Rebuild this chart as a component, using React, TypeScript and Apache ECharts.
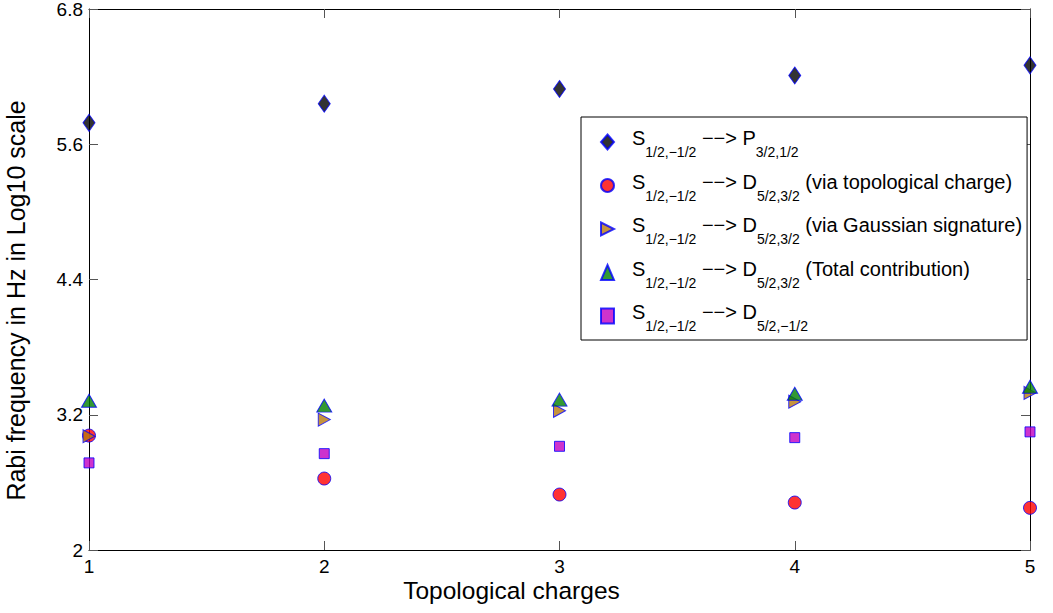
import React, { useEffect, useRef } from "react";
import * as echarts from "echarts";

const xValues = [1, 2, 3, 4, 5];
const xTicks = [1, 2, 3, 4, 5];
const yTicks = [2, 3.2, 4.4, 5.6, 6.8];

const seriesP = [5.79, 5.96, 6.09, 6.21, 6.3];
const seriesTopo = [3.015, 2.634, 2.492, 2.421, 2.374];
const seriesGauss = [3.01, 3.157, 3.235, 3.316, 3.394];
const seriesTotal = [3.324, 3.281, 3.334, 3.387, 3.449];
const seriesDm = [2.773, 2.855, 2.92, 2.997, 3.048];

const seriesNames = [
  "S1/2,−1/2 −−> P3/2,1/2",
  "S1/2,−1/2 −−> D5/2,3/2 (via topological charge)",
  "S1/2,−1/2 −−> D5/2,3/2 (via Gaussian signature)",
  "S1/2,−1/2 −−> D5/2,3/2 (Total contribution)",
  "S1/2,−1/2 −−> D5/2,−1/2",
];
const legendRich = [
  "{f|S}{s|1/2,−1/2}{a| −−> P}{s|3/2,1/2}",
  "{f|S}{s|1/2,−1/2}{a| −−> D}{s|5/2,3/2}{a| (via topological charge)}",
  "{f|S}{s|1/2,−1/2}{a| −−> D}{s|5/2,3/2}{a| (via Gaussian signature)}",
  "{f|S}{s|1/2,−1/2}{a| −−> D}{s|5/2,3/2}{a| (Total contribution)}",
  "{f|S}{s|1/2,−1/2}{a| −−> D}{s|5/2,−1/2}",
];

const FONT = "'Liberation Sans', Arial, Helvetica, sans-serif";
const BORDER = "#0000ff";

function pts(vals: number[]) {
  return xValues.map((x, i) => [x, vals[i]]);
}

export default function App() {
  const ref = useRef<HTMLDivElement>(null);
  useEffect(() => {
    document.body.style.margin = "0";
    const chart = echarts.init(ref.current!, undefined, { renderer: "svg" });
    const tickStyle = { show: true, inside: true, length: 9, lineStyle: { color: "#555", width: 1 } };
    const lineStyle = { show: true, onZero: false, lineStyle: { color: "#000", width: 1 } };
    chart.setOption({
      animation: false,
      backgroundColor: "#fff",
      textStyle: { fontFamily: FONT },
      grid: { left: 89, right: 23, top: 9, bottom: 63, containLabel: false, outerBoundsMode: "none" },
      legend: {
        orient: "vertical",
        left: 581,
        top: 117,
        padding: [11, 5, 7, 19],
        itemWidth: 13,
        itemHeight: 15,
        itemGap: 12.5,
        borderColor: "#000",
        borderWidth: 1,
        backgroundColor: "#fff",
        data: seriesNames,
        formatter: (name: string) => legendRich[seriesNames.indexOf(name)],
        textStyle: {
          color: "#000",
          fontFamily: FONT,
          rich: {
            f: { fontSize: 20, fontFamily: FONT, color: "#000", lineHeight: 28, verticalAlign: "top", padding: [0, 0, 0, 13] },
            a: { fontSize: 20, fontFamily: FONT, color: "#000", lineHeight: 28, verticalAlign: "top" },
            s: { fontSize: 14, fontFamily: FONT, color: "#000", lineHeight: 1, height: 8, verticalAlign: "bottom" },
          },
        },
      },
      xAxis: [
        {
          type: "value",
          min: 1,
          max: 5,
          interval: 1,
          position: "bottom",
          axisLine: lineStyle,
          axisTick: tickStyle,
          splitLine: { show: false },
          axisLabel: { fontSize: 19, color: "#000", margin: 7, customValues: xTicks },
          name: "Topological charges",
          nameLocation: "middle",
          nameGap: 28,
          nameMoveOverlap: false,
          nameTextStyle: { fontSize: 24.5, color: "#000", fontFamily: FONT, padding: [0, 96, 0, 0] },
        },
        {
          type: "value",
          min: 1,
          max: 5,
          interval: 1,
          position: "top",
          axisLine: lineStyle,
          axisTick: tickStyle,
          splitLine: { show: false },
          axisLabel: { show: false },
        },
      ],
      yAxis: [
        {
          type: "value",
          min: 2,
          max: 6.8,
          position: "left",
          axisLine: lineStyle,
          axisTick: { ...tickStyle, customValues: yTicks },
          splitLine: { show: false },
          axisLabel: { fontSize: 19, color: "#000", margin: 6, customValues: yTicks },
          name: "Rabi frequency in Hz in Log10 scale",
          nameLocation: "middle",
          nameGap: 61,
          nameTextStyle: { fontSize: 25, color: "#000", fontFamily: FONT, padding: [0, 42, 0, 0] },
        },
        {
          type: "value",
          min: 2,
          max: 6.8,
          position: "right",
          axisLine: lineStyle,
          axisTick: { ...tickStyle, customValues: yTicks },
          splitLine: { show: false },
          axisLabel: { show: false },
        },
      ],
      series: [
        {
          type: "scatter",
          name: seriesNames[0],
          symbol: "diamond",
          symbolSize: [12, 17],
          itemStyle: { color: "#000000", borderColor: BORDER, borderWidth: 1 },
          data: pts(seriesP),
        },
        {
          type: "scatter",
          name: seriesNames[1],
          symbol: "circle",
          symbolSize: 13,
          itemStyle: { color: "#ff0000", borderColor: BORDER, borderWidth: 1 },
          data: pts(seriesTopo),
        },
        {
          type: "scatter",
          name: seriesNames[2],
          symbol: "path://M0,0L10,5L0,10Z",
          symbolSize: [12, 13],
          itemStyle: { color: "#b8780e", borderColor: BORDER, borderWidth: 1 },
          data: pts(seriesGauss),
        },
        {
          type: "scatter",
          name: seriesNames[3],
          symbol: "triangle",
          symbolSize: [15, 13],
          itemStyle: { color: "#008000", borderColor: BORDER, borderWidth: 1 },
          data: pts(seriesTotal),
        },
        {
          type: "scatter",
          name: seriesNames[4],
          symbol: "rect",
          symbolSize: 10,
          itemStyle: { color: "#c000c0", borderColor: BORDER, borderWidth: 1 },
          data: pts(seriesDm),
        },
      ],
    });
    return () => chart.dispose();
  }, []);
  return <div ref={ref} style={{ position: "absolute", left: 0, top: 0, width: 1053, height: 613 }} />;
}
